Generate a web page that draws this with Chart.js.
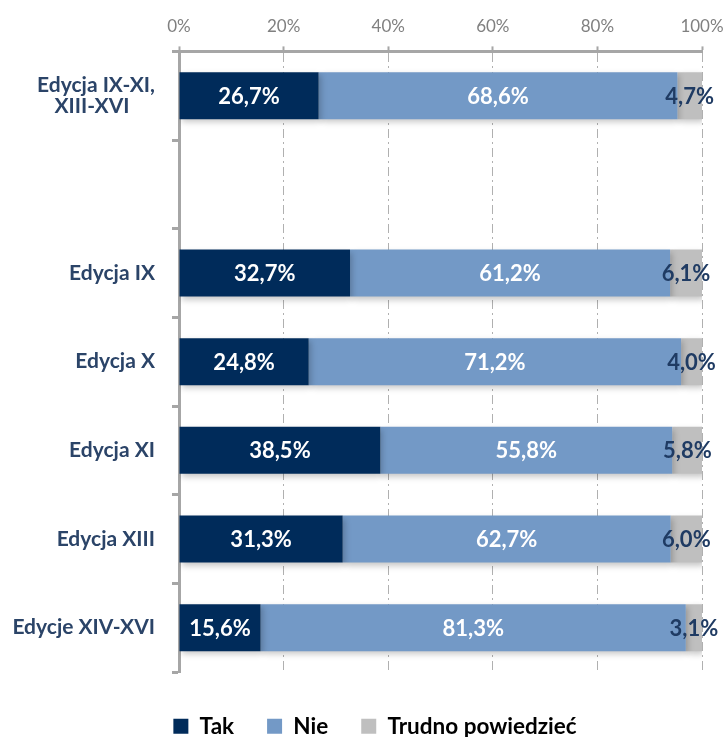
<!DOCTYPE html>
<html><head><meta charset="utf-8">
<script src="https://cdn.jsdelivr.net/npm/chart.js@4/dist/chart.umd.min.js"></script>
<style>html,body{margin:0;padding:0;background:#fff}#wrap{width:725px;height:737px}</style>
</head><body><div id="wrap"><canvas id="c" width="725" height="737"></canvas></div>
<script>
const categories = [['Edycja IX-XI,', 'XIII-XVI     '], '', 'Edycja IX', 'Edycja X', 'Edycja XI', 'Edycja XIII', 'Edycje XIV-XVI'];
const seriesNames = ['Tak', 'Nie', 'Trudno powiedzieć'];
const tak = [26.7, null, 32.7, 24.8, 38.5, 31.3, 15.6];
const nie = [68.6, null, 61.2, 71.2, 55.8, 62.7, 81.3];
const trudno = [4.7, null, 6.1, 4.0, 5.8, 6.0, 3.1];
const xTicks = [0, 20, 40, 60, 80, 100];

const colors = ['#002B5A', '#7399C6', '#BFBFBF'];
const labelColors = ['#FFFFFF', '#FFFFFF', '#1F3B63'];
const FONT = 'Lato, "Open Sans", sans-serif';

const fmt = v => v.toFixed(1).replace('.', ',') + '%';

const AREA_LEFT = 179;

const legendPatch = {
  id: 'legendPatch',
  beforeLayout(chart) {
    const lg = chart.legend;
    if (lg && !lg._patched) {
      const orig = lg.fit;
      lg.fit = function () { orig.call(this); this.height = 65; };
      lg._patched = true;
    }
  },
  afterLayout(chart) {
    const lg = chart.legend;
    if (lg) { lg.top += 10; lg.bottom += 10; lg.left += 24; lg.right += 24; }
  }
};

const shadowPlugin = {
  id: 'shadow',
  beforeDatasetsDraw(chart) {
    const ctx = chart.ctx;
    ctx.save();
    ctx.shadowColor = 'rgba(0,0,0,0.22)';
    ctx.shadowBlur = 6;
    ctx.shadowOffsetX = 2;
    ctx.shadowOffsetY = 3;
  },
  afterDatasetsDraw(chart) {
    const ctx = chart.ctx;
    ctx.restore();
    ctx.save();
    ctx.font = 'bold 22px ' + FONT;
    ctx.textAlign = 'center';
    ctx.textBaseline = 'middle';
    chart.data.datasets.forEach((ds, di) => {
      const meta = chart.getDatasetMeta(di);
      meta.data.forEach((bar, i) => {
        const v = ds.data[i];
        if (v == null) return;
        const p = bar.getProps(['x', 'y', 'base'], true);
        const cx = (p.x + p.base) / 2;
        ctx.fillStyle = labelColors[di];
        ctx.fillText(fmt(v), cx, p.y + 1);
      });
    });
    ctx.restore();
  }
};

new Chart(document.getElementById('c'), {
  type: 'bar',
  data: {
    labels: categories,
    datasets: [
      { label: seriesNames[0], data: tak, backgroundColor: colors[0] },
      { label: seriesNames[1], data: nie, backgroundColor: colors[1] },
      { label: seriesNames[2], data: trudno, backgroundColor: colors[2] }
    ]
  },
  options: {
    indexAxis: 'y',
    responsive: false,
    animation: false,
    layout: { padding: { top: 6, right: 23, left: 0, bottom: 0 } },
    datasets: { bar: { categoryPercentage: 0.53, barPercentage: 1.0 } },
    scales: {
      x: {
        position: 'top',
        stacked: true,
        min: 0, max: 100,
        afterBuildTicks: s => { s.ticks = xTicks.map(v => ({ value: v })); },
        afterFit: s => { s.paddingLeft = 0; s.paddingRight = 0; },
        ticks: {
          callback: v => v + '%',
          color: '#808080',
          font: { family: FONT, size: 17 },
          padding: 10
        },
        grid: {
          color: '#B0B0B0',
          lineWidth: 1,
          drawTicks: true,
          tickLength: 5,
          tickColor: '#A6A6A6',
          tickWidth: 2,
          tickBorderDash: []
        },
        border: { display: true, color: '#A6A6A6', width: 3, dash: [9, 4, 2, 4] }
      },
      y: {
        stacked: true,
        afterFit: s => { s.width = AREA_LEFT; },
        ticks: {
          color: '#2B4468',
          font: { family: FONT, size: 21, weight: 'bold', lineHeight: 1.0 },
          padding: 17
        },
        grid: {
          offset: true,
          drawOnChartArea: false,
          drawTicks: true,
          tickLength: 7,
          tickColor: '#A6A6A6',
          tickWidth: 3
        },
        border: { display: true, color: '#A6A6A6', width: 3 }
      }
    },
    plugins: {
      legend: {
        position: 'bottom',
        labels: {
          boxWidth: 15, boxHeight: 15,
          color: '#000',
          font: { family: FONT, size: 22.5, weight: 'bold' },
          padding: 33
        }
      },
      tooltip: { enabled: false }
    }
  },
  plugins: [legendPatch, shadowPlugin]
});
</script></body></html>
